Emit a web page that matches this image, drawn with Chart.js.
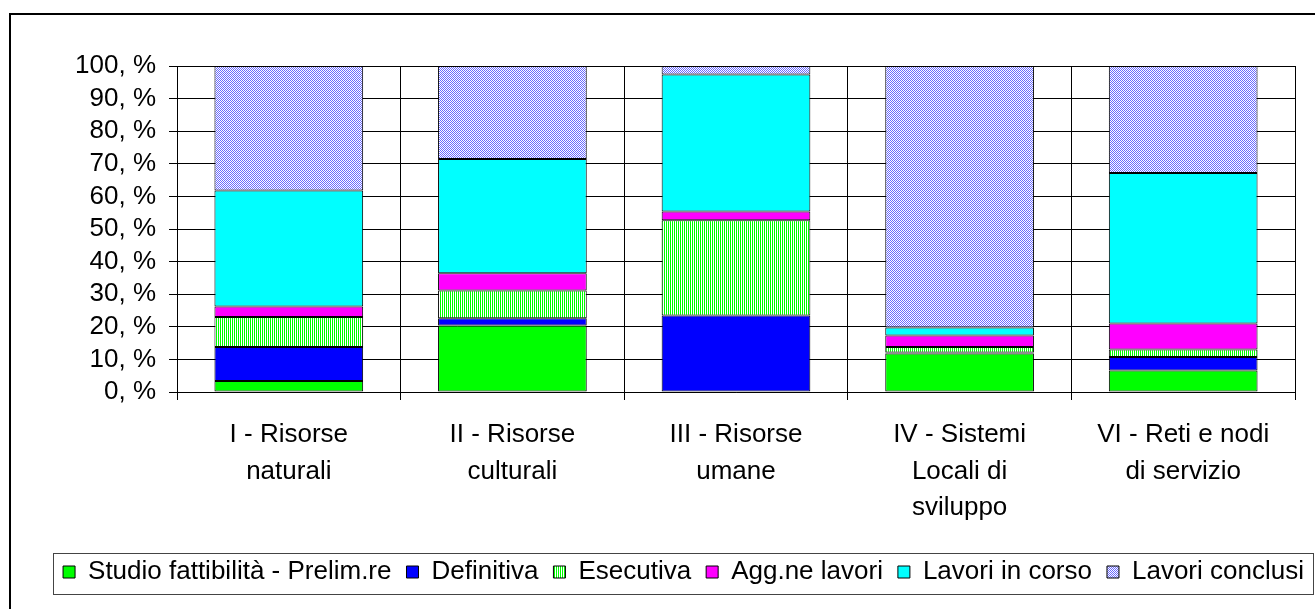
<!DOCTYPE html>
<html>
<head>
<meta charset="utf-8">
<script src="https://cdn.jsdelivr.net/npm/chart.js@4/dist/chart.umd.min.js"></script>
<style>
  html, body { margin: 0; padding: 0; background: #fff; }
  #wrap { width: 1315px; height: 609px; position: relative; }
</style>
</head>
<body>
<div id="wrap"><canvas id="myChart" width="1315" height="609"></canvas></div>
<script>
// categories (x-axis labels, one entry per line)
const categories = [
  ["I - Risorse", "naturali"],
  ["II - Risorse", "culturali"],
  ["III - Risorse", "umane"],
  ["IV - Sistemi", "Locali di", "sviluppo"],
  ["VI - Reti e nodi", "di servizio"]
];

// series values, percent of each category
const studio     = [3.4, 20.4, 0.0, 11.8, 6.6];
const definitiva = [10.4, 2.2, 23.5, 0.3, 4.1];
const esecutiva  = [9.2, 8.5, 29.2, 1.7, 2.3];
const aggLavori  = [3.2, 5.3, 2.7, 3.5, 8.0];
const inCorso    = [35.6, 35.1, 42.0, 2.5, 46.2];
const conclusi   = [38.2, 28.5, 2.6, 80.2, 32.8];

const seriesNames = ["Studio fattibilità - Prelim.re", "Definitiva", "Esecutiva", "Agg.ne lavori", "Lavori in corso", "Lavori conclusi"];

// y tick labels
const yTicks = [0, 10, 20, 30, 40, 50, 60, 70, 80, 90, 100];
const yTickLabels = yTicks.map(v => v + ", %");

const FONT = "'Liberation Sans', Arial, sans-serif";

function stripes() {
  const c = document.createElement("canvas");
  c.width = 2; c.height = 1;
  const x = c.getContext("2d");
  x.fillStyle = "#ffffff"; x.fillRect(0, 0, 2, 1);
  x.fillStyle = "#00ff00"; x.fillRect(0, 0, 1, 1);
  return x.createPattern(c, "repeat");
}

function checker() {
  const c = document.createElement("canvas");
  c.width = 2; c.height = 2;
  const x = c.getContext("2d");
  x.fillStyle = "#ffffff"; x.fillRect(0, 0, 2, 2);
  x.fillStyle = "#6a6aff";
  x.fillRect(0, 0, 1, 1);
  x.fillRect(1, 1, 1, 1);
  return x.createPattern(c, "repeat");
}

const fills = ["#00ff00", "#0000ff", stripes(), "#ff00ff", "#00ffff", checker()];
const values = [studio, definitiva, esecutiva, aggLavori, inCorso, conclusi];

const frame = {
  id: "frame",
  afterLayout(chart) {
    // let the legend row run wider than the plot, centred under the frame
    const lg = chart.legend;
    lg.left = 37; lg.right = 1330; lg.width = 1293;
  },
  beforeDraw(chart) {
    const ctx = chart.ctx;
    ctx.save();
    ctx.fillStyle = "#000";
    ctx.fillRect(9, 13, 2, 596);
    ctx.fillRect(9, 13, 1306, 2);
    ctx.restore();
  },
  afterDraw(chart) {
    const ctx = chart.ctx;
    ctx.save();
    ctx.strokeStyle = "#444";
    ctx.lineWidth = 1;
    ctx.strokeRect(53.5, 553.5, 1260, 41);
    ctx.restore();
  }
};

new Chart("myChart", {
  type: "bar",
  data: {
    labels: categories,
    datasets: values.map((arr, i) => ({
      label: seriesNames[i],
      data: arr,
      backgroundColor: fills[i],
      borderColor: "#000",
      borderWidth: 1,
      borderSkipped: false,
      barPercentage: 0.665,
      categoryPercentage: 1
    }))
  },
  options: {
    responsive: false,
    animation: false,
    events: [],
    layout: { padding: { left: 10, right: 20, top: 66, bottom: 14 } },
    scales: {
      x: {
        stacked: true,
        offset: true,
        grid: { offset: true, color: "#000", tickLength: 8, tickColor: "#000" },
        border: { color: "#000" },
        ticks: { color: "#000", font: { family: FONT, size: 26, lineHeight: 1.4 }, padding: 17, maxRotation: 0, autoSkip: false },
        afterFit(scale) { scale.height = 152; }
      },
      y: {
        stacked: true,
        min: 0,
        max: 100,
        grid: { color: "#000", tickLength: 8, tickColor: "#000" },
        border: { color: "#000" },
        ticks: {
          stepSize: 10,
          autoSkip: false,
          color: "#000",
          padding: 13,
          font: { family: FONT, size: 26 },
          callback: v => yTickLabels[yTicks.indexOf(v)]
        },
        afterFit(scale) { scale.width = 167; }
      }
    },
    plugins: {
      legend: {
        position: "bottom",
        labels: {
          color: "#000",
          font: { family: FONT, size: 26 },
          boxWidth: 12,
          boxHeight: 12,
          padding: 15
        }
      },
      tooltip: { enabled: false }
    }
  },
  plugins: [frame]
});
</script>
</body>
</html>
